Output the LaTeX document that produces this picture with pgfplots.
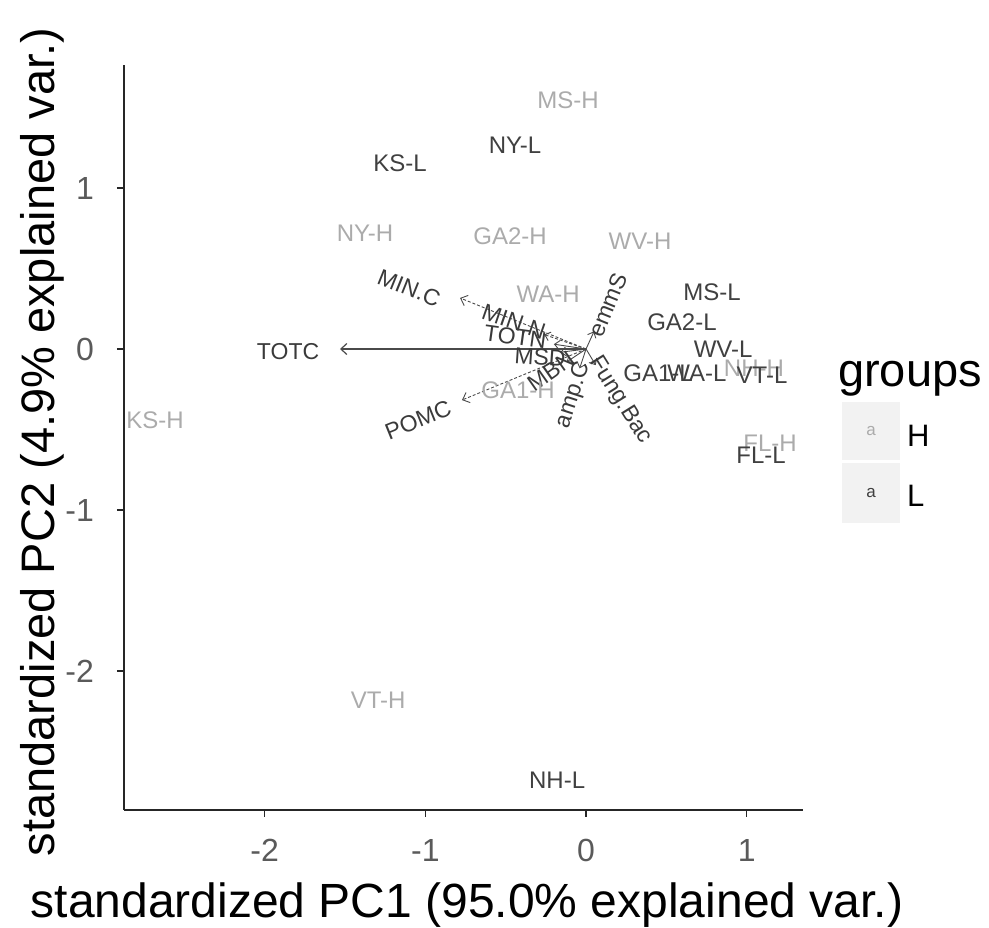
\documentclass[border=0pt]{standalone}
\usepackage{pgfplots}
\pgfplotsset{compat=1.18}
\usepackage{fontspec}
\setmainfont{Liberation Sans}
\usetikzlibrary{arrows.meta}
\definecolor{Hcol}{HTML}{ABABAB}
\definecolor{Lcol}{HTML}{404040}
\definecolor{tickgray}{HTML}{5A5A5A}
\definecolor{arrcol}{HTML}{4A4A4A}
\definecolor{varcol}{HTML}{3A3A3A}
\definecolor{keybg}{HTML}{F2F2F2}
\newcommand{\fs}[1]{\fontsize{#1bp}{#1bp}\selectfont}
\begin{document}
\begin{tikzpicture}
\useasboundingbox (0,0) rectangle (989bp,928bp);
\begin{axis}[
  at={(124bp,118bp)}, anchor=south west,
  scale only axis, width=679bp, height=745bp,
  xmin=-2.875, xmax=1.35, ymin=-2.863, ymax=1.764,
  axis lines*=left, axis line style={-, line width=1.4bp, color=black!85},
  tick align=outside, major tick length=7bp,
  tick style={line width=1.4bp, color=black!85},
  xtick={-2,-1,0,1}, ytick={-2,-1,0,1},
  /pgf/number format/assume math mode=true,
  ticklabel style={font=\fs{32}, text=tickgray, inner sep=0pt},
  xticklabel style={anchor=center, yshift=-33bp},
  yticklabel style={anchor=east, xshift=-23bp},
  clip=false,
]
% arrows
\addplot[arrcol, line width=1.2bp, -{Straight Barb[length=6bp,width=11bp]}] coordinates {(0,0) (-1.531,0)};
\addplot[arrcol, line width=0.9bp, densely dashed, -{Straight Barb[length=6bp,width=11bp]}] coordinates {(0,0) (-0.784,0.317)};
\addplot[arrcol, line width=0.9bp, densely dashed, -{Straight Barb[length=6bp,width=11bp]}] coordinates {(0,0) (-0.772,-0.317)};
\addplot[arrcol, line width=0.9bp, densely dashed, -{Straight Barb[length=5bp,width=9bp]}] coordinates {(0,0) (-0.26,0.09)};
\addplot[arrcol, line width=0.9bp, -{Straight Barb[length=5bp,width=9bp]}] coordinates {(0,0) (-0.20,0.03)};
\addplot[arrcol, line width=0.9bp, -{Straight Barb[length=5bp,width=9bp]}] coordinates {(0,0) (-0.16,-0.02)};
\addplot[arrcol, line width=0.9bp, -{Straight Barb[length=5bp,width=9bp]}] coordinates {(0,0) (-0.12,-0.08)};
\addplot[arrcol, line width=0.9bp, -{Straight Barb[length=5bp,width=9bp]}] coordinates {(0,0) (0.05,0.11)};
\addplot[arrcol, line width=0.9bp, -{Straight Barb[length=5bp,width=9bp]}] coordinates {(0,0) (-0.04,-0.12)};
\addplot[arrcol, line width=0.9bp, -{Straight Barb[length=5bp,width=9bp]}] coordinates {(0,0) (0.06,-0.10)};
% variable labels
\node[font=\fs{23}, text=varcol] at (axis cs:-1.854,-0.019) {TOTC};
\node[font=\fs{23}, text=varcol, rotate=-22] at (axis cs:-1.101,0.379) {MIN.C};
\node[font=\fs{23}, text=varcol, rotate=22] at (axis cs:-1.045,-0.441) {POMC};
\node[font=\fs{23}, text=varcol, rotate=-19] at (axis cs:-0.45,0.17) {MIN.N};
\node[font=\fs{23}, text=varcol, rotate=-8] at (axis cs:-0.44,0.075) {TOTN};
\node[font=\fs{23}, text=varcol, rotate=-4] at (axis cs:-0.286,-0.05) {MSD};
\node[font=\fs{23}, text=varcol, rotate=35] at (axis cs:-0.22,-0.14) {MBN};
\node[font=\fs{23}, text=varcol, rotate=68] at (axis cs:0.137,0.273) {emmS};
\node[font=\fs{23}, text=varcol, rotate=72] at (axis cs:-0.075,-0.286) {amp.C};
\node[font=\fs{23}, text=varcol, rotate=-58] at (axis cs:0.21,-0.317) {Fung.Bac};
% sample labels, group H
\addplot[only marks, mark=none, nodes near coords, point meta=explicit symbolic,
  nodes near coords style={anchor=center, font=\fs{24}, text=Hcol, inner sep=0pt}]
  table[meta=label] {
x y label
-0.112 1.547 MS-H
-1.375 0.720 NY-H
-0.473 0.702 GA2-H
0.336 0.671 WV-H
-0.236 0.342 WA-H
-2.682 -0.441 KS-H
-0.423 -0.255 GA1-H
1.045 -0.118 NH-H
1.145 -0.584 FL-H
-1.294 -2.180 VT-H
};
% sample labels, group L
\addplot[only marks, mark=none, nodes near coords, point meta=explicit symbolic,
  nodes near coords style={anchor=center, font=\fs{24}, text=Lcol, inner sep=0pt}]
  table[meta=label] {
x y label
-0.442 1.267 NY-L
-1.157 1.155 KS-L
0.784 0.354 MS-L
0.597 0.168 GA2-L
0.853 0.000 WV-L
0.448 -0.149 GA1-L
0.690 -0.149 WA-L
1.095 -0.161 VT-L
1.089 -0.658 FL-L
-0.180 -2.677 NH-L
};
\end{axis}
% axis titles
\node[anchor=base, font=\fs{48}, text=black] at (467bp,11bp) {standardized PC1 (95.0\% explained var.)};
\node[anchor=base, rotate=90, font=\fs{47}, text=black] at (54bp,486bp) {standardized PC2 (4.9\% explained var.)};
% legend
\node[anchor=base west, font=\fs{47}, inner sep=0pt] at (838bp,541bp) {groups};
\fill[keybg] (842bp,468bp) rectangle (900bp,526bp);
\fill[keybg] (842bp,405bp) rectangle (900bp,465bp);
\node[font=\fs{17}, text=Hcol] at (871bp,497bp) {a};
\node[font=\fs{17}, text=Lcol] at (871bp,435bp) {a};
\node[anchor=west, font=\fs{31}, inner sep=0pt] at (907bp,492bp) {H};
\node[anchor=west, font=\fs{31}, inner sep=0pt] at (907bp,432bp) {L};
\end{tikzpicture}
\end{document}
